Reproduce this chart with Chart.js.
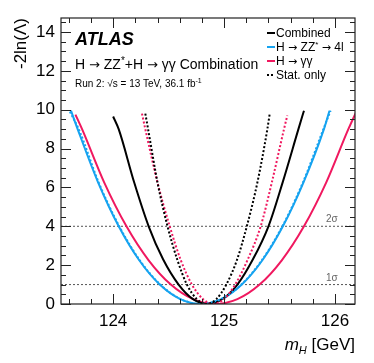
<!DOCTYPE html>
<html>
<head>
<meta charset="utf-8">
<script src="https://cdn.jsdelivr.net/npm/chart.js@4.4.1/dist/chart.umd.min.js"></script>
<style>
  body { margin: 0; background: #fff; }
  #wrap { width: 374px; height: 363px; position: relative; }
</style>
</head>
<body>
<div id="wrap"><canvas id="nllChart"></canvas></div>
<script>
// m_H scan (GeV) and -2ln(Lambda)
const combMass = [124.00, 124.05, 124.19, 124.32, 124.45, 124.59, 124.72, 124.85, 124.99, 125.12, 125.26, 125.40, 125.53, 125.67, 125.72];
const combNll = [9.65, 9.0, 6.25, 4.0, 2.3, 1.0, 0.25, 0.0, 0.27, 1.0, 2.3, 4.0, 6.3, 9.0, 9.95];

const combStatMass = [124.29, 124.315, 124.40, 124.49, 124.58, 124.665, 124.755, 124.84, 124.93, 125.02, 125.115, 125.205, 125.30, 125.39, 125.41];
const combStatNll = [9.8, 9.0, 6.25, 4.0, 2.25, 1.0, 0.25, 0.0, 0.25, 1.0, 2.25, 4.0, 6.25, 9.0, 9.75];

const zzMass = [123.62, 123.68, 123.865, 124.05, 124.235, 124.42, 124.605, 124.79, 124.975, 125.16, 125.345, 125.53, 125.715, 125.90, 125.95];
const zzNll = [9.95, 9.0, 6.25, 4.0, 2.25, 1.0, 0.25, 0.0, 0.25, 1.0, 2.25, 4.0, 6.25, 9.0, 9.95];

const zzStatMass = [123.61, 123.69, 123.87, 124.055, 124.24, 124.425, 124.61, 124.79, 124.97, 125.155, 125.34, 125.525, 125.71, 125.895, 125.96];
const zzStatNll = [9.9, 9.0, 6.25, 4.0, 2.25, 1.0, 0.25, 0.0, 0.25, 1.0, 2.25, 4.0, 6.25, 9.0, 9.95];

const gamMass = [123.66, 123.72, 123.92, 124.12, 124.32, 124.52, 124.72, 124.92, 125.12, 125.32, 125.52, 125.72, 125.92, 126.12, 126.20];
const gamNll = [9.75, 9.0, 6.25, 4.0, 2.25, 1.0, 0.25, 0.0, 0.25, 1.0, 2.25, 4.0, 6.25, 9.0, 10.0];

const gamStatMass = [124.26, 124.29, 124.40, 124.51, 124.61, 124.71, 124.81, 124.90, 125.00, 125.10, 125.21, 125.33, 125.43, 125.54, 125.57];
const gamStatNll = [9.8, 9.0, 6.25, 4.0, 2.25, 1.0, 0.25, 0.0, 0.25, 1.0, 2.25, 4.0, 6.25, 9.0, 9.7];

const sigmaLevels = [1, 4];
const sigmaLabels = ['1σ', '2σ'];
const xRange = [123.53, 126.18];
const yRange = [0, 14.72];

const BLUE = '#16a3f0';
const PINK = '#f0185f';
const FONT = '"Liberation Sans", Arial, Helvetica, sans-serif';
const SYM = '"DejaVu Sans", sans-serif';

const toPoints = (xs, ys) => xs.map((x, i) => ({ x: x, y: ys[i] }));

function curve(xs, ys, color, dashed) {
    return {
        data: toPoints(xs, ys),
        borderColor: color,
        borderWidth: 2,
        borderDash: dashed ? [2, 2] : [],
        pointRadius: 0,
        cubicInterpolationMode: 'monotone',
        fill: false
    };
}

const datasets = [
    curve(combStatMass, combStatNll, '#000', true),
    curve(gamStatMass, gamStatNll, PINK, true),
    curve(zzStatMass, zzStatNll, BLUE, true),
    curve(combMass, combNll, '#000', false),
    curve(gamMass, gamNll, PINK, false),
    curve(zzMass, zzNll, BLUE, false)
];
sigmaLevels.forEach(level => {
    datasets.push({
        data: [{ x: xRange[0], y: level }, { x: xRange[1], y: level }],
        borderColor: '#555',
        borderWidth: 1,
        borderDash: [2, 2],
        pointRadius: 0
    });
});

// draws a run of text pieces: [text, size, raise, style, family]
function richText(ctx, x, y, parts, align) {
    const fontOf = p => (p[3] || '') + ' ' + p[1] + 'px ' + (p[4] || FONT);
    let total = 0;
    parts.forEach(p => {
        ctx.font = fontOf(p);
        total += ctx.measureText(p[0]).width;
    });
    let cx = align === 'right' ? x - total : x;
    ctx.textAlign = 'left';
    parts.forEach(p => {
        ctx.font = fontOf(p);
        ctx.fillText(p[0], cx, y - (p[2] || 0));
        cx += ctx.measureText(p[0]).width;
    });
}

const atlasDecor = {
    id: 'atlasDecor',
    afterDatasetsDraw(chart) {
        const { ctx, chartArea: a, scales: { x, y } } = chart;
        ctx.save();

        // frame
        ctx.strokeStyle = '#222';
        ctx.lineWidth = 1.2;
        ctx.strokeRect(a.left, a.top, a.right - a.left, a.bottom - a.top);

        // inner ticks on all sides
        ctx.lineWidth = 1;
        ctx.beginPath();
        for (let i = 0; i <= 29; i++) {
            const py = Math.round(y.getPixelForValue(i * 0.5)) + 0.5;
            const len = i % 4 === 0 ? 10 : 5;
            ctx.moveTo(a.left, py); ctx.lineTo(a.left + len, py);
            ctx.moveTo(a.right, py); ctx.lineTo(a.right - len, py);
        }
        for (let i = 618; i <= 630; i++) {
            const px = Math.round(x.getPixelForValue(i / 5)) + 0.5;
            const len = i % 5 === 0 ? 10 : 5;
            ctx.moveTo(px, a.bottom); ctx.lineTo(px, a.bottom - len);
            ctx.moveTo(px, a.top); ctx.lineTo(px, a.top + len);
        }
        ctx.stroke();

        // sigma labels
        ctx.fillStyle = '#666';
        ctx.font = '10px ' + FONT;
        ctx.textAlign = 'left';
        sigmaLevels.forEach((level, i) => {
            ctx.fillText(sigmaLabels[i], 326, y.getPixelForValue(level) - 4);
        });

        // ATLAS label block
        ctx.fillStyle = '#000';
        ctx.textBaseline = 'alphabetic';
        richText(ctx, 75, 45, [['ATLAS', 18, 0, 'italic bold']]);
        richText(ctx, 75, 69, [['H ', 14], ['→', 13, 0, '', SYM], [' ZZ', 14], ['*', 10, 5],
            ['+H ', 14], ['→', 13, 0, '', SYM], [' γγ Combination', 14]]);
        richText(ctx, 75, 87, [['Run 2: √s = 13 TeV, 36.1 fb', 10], ['-1', 7, 4]]);

        // legend
        const rows = [
            { label: [['Combined', 12]], color: '#000', dash: [] },
            { label: [['H ', 12], ['→', 11, 0, '', SYM], [' ZZ', 12], ['*', 8, 4], [' ', 12], ['→', 11, 0, '', SYM], [' 4l', 12]], color: BLUE, dash: [] },
            { label: [['H ', 12], ['→', 11, 0, '', SYM], [' γγ', 12]], color: PINK, dash: [] },
            { label: [['Stat. only', 12]], color: '#000', dash: [2, 2] }
        ];
        rows.forEach((r, i) => {
            const ry = 33 + i * 14;
            ctx.strokeStyle = r.color;
            ctx.lineWidth = 2;
            ctx.setLineDash(r.dash);
            ctx.beginPath();
            ctx.moveTo(267, ry); ctx.lineTo(275, ry);
            ctx.stroke();
            ctx.setLineDash([]);
            ctx.fillStyle = '#000';
            richText(ctx, 276, ry + 4, r.label);
        });

        // axis titles
        richText(ctx, a.right, 350, [['m', 17, 0, 'italic'], ['H', 11, -4, 'italic'], [' [GeV]', 17]], 'right');
        ctx.translate(26, a.top);
        ctx.rotate(-Math.PI / 2);
        richText(ctx, 0, 0, [['-2ln(Λ)', 17]], 'right');

        ctx.restore();
    }
};

new Chart(document.getElementById('nllChart'), {
    type: 'line',
    data: { datasets: datasets },
    options: {
        responsive: true,
        maintainAspectRatio: false,
        animation: false,
        layout: { padding: { top: 18, right: 19, left: 0, bottom: 0 } },
        plugins: { legend: { display: false }, tooltip: { enabled: false } },
        scales: {
            x: {
                type: 'linear',
                min: xRange[0],
                max: xRange[1],
                afterFit: s => { s.height = 59; },
                grid: { display: false, drawTicks: false },
                border: { display: false },
                ticks: { stepSize: 1, includeBounds: false, padding: 7, color: '#000', font: { size: 17, family: FONT } }
            },
            y: {
                min: yRange[0],
                max: yRange[1],
                afterFit: s => { s.width = 61; },
                grid: { display: false, drawTicks: false },
                border: { display: false },
                ticks: { stepSize: 2, includeBounds: false, padding: 6, color: '#000', font: { size: 17, family: FONT } }
            }
        }
    },
    plugins: [atlasDecor]
});
</script>
</body>
</html>
